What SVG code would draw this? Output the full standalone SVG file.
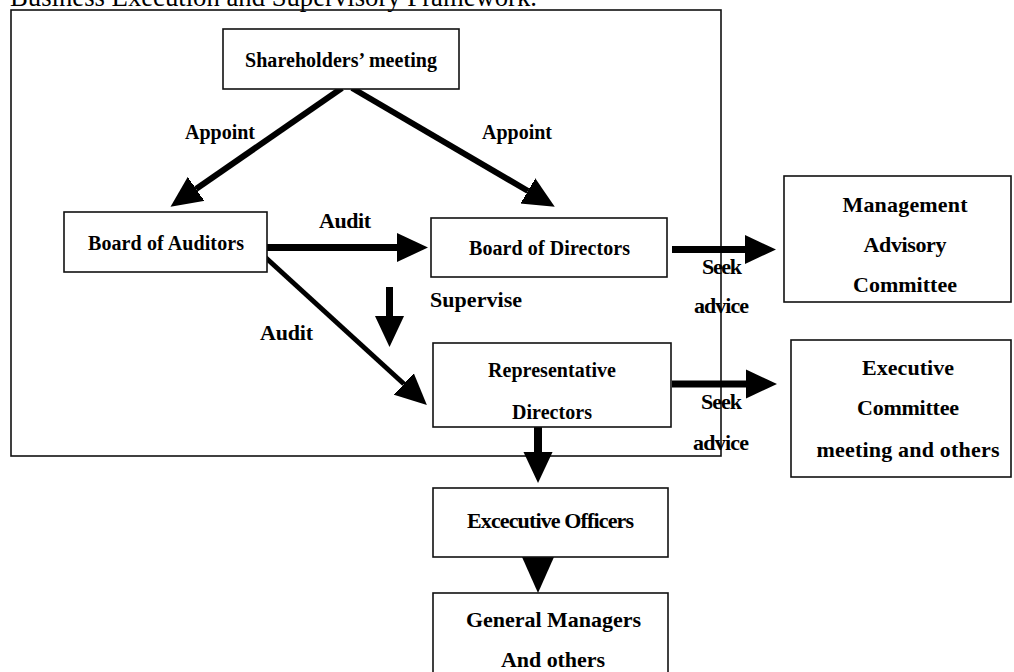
<svg xmlns="http://www.w3.org/2000/svg" width="1014" height="672" viewBox="0 0 1014 672">
  <style>
    .box { fill: #ffffff; stroke: #111111; stroke-width: 1.6; }
    .frame { fill: none; stroke: #111111; stroke-width: 1.6; }
    .t { font-family: "Liberation Serif", "Times New Roman", serif; font-weight: bold; font-size: 20px; fill: #000000; }
    .c { font-family: "Liberation Serif", "Times New Roman", serif; font-weight: bold; font-size: 22px; fill: #000000; }
    .title { font-family: "Liberation Serif", "Times New Roman", serif; font-size: 26.7px; fill: #000000; }
    .conn { stroke: #000000; fill: none; marker-end: url(#head); }
    .head { fill: #000000; }
  </style>
  <defs>
    <marker id="head" markerUnits="userSpaceOnUse" viewBox="0 -16 33 32" markerWidth="33" markerHeight="32" refX="0" refY="0" orient="auto">
      <path d="M-1,-15 L31,0 L-1,15 Z" fill="#000000"/>
    </marker>
  </defs>

  <text class="title" x="10" y="6">Business Execution and Supervisory Framework.</text>

  <rect id="frame" class="frame" x="11" y="10" width="710" height="446"/>

  <g id="connectors">
    <line class="conn" x1="342" y1="88" x2="196" y2="189" stroke-width="6"/>
    <line class="conn" x1="352" y1="88" x2="528" y2="191" stroke-width="6"/>
    <line class="conn" x1="267" y1="247.5" x2="397" y2="247.5" stroke-width="7"/>
    <line class="conn" x1="265" y1="257" x2="404" y2="384" stroke-width="5"/>
    <line class="conn" x1="389.5" y1="287" x2="389.5" y2="316" stroke-width="7"/>
    <line class="conn" x1="538" y1="427" x2="538" y2="452" stroke-width="8"/>
    <line class="conn" x1="672" y1="249.5" x2="745" y2="249.5" stroke-width="7"/>
    <line class="conn" x1="672" y1="384" x2="746" y2="384" stroke-width="7"/>
    <polygon class="head" points="522,557 554,557 538,593"/>
    <text class="t" x="185" y="139">Appoint</text>
    <text class="t" x="482" y="139">Appoint</text>
    <text class="c" x="319" y="228" textLength="52">Audit</text>
    <text class="c" x="260" y="340" textLength="53">Audit</text>
    <text class="c" x="430" y="307" textLength="92">Supervise</text>
    <text class="c" x="702" y="274" textLength="40">Seek</text>
    <text class="c" x="694" y="313" textLength="55">advice</text>
    <text class="c" x="701" y="409" textLength="41">Seek</text>
    <text class="c" x="693" y="450" textLength="56">advice</text>
  </g>

  <g id="shareholders">
    <rect class="box" x="223" y="29" width="236" height="60"/>
    <text class="t" x="341" y="67" text-anchor="middle" textLength="192">Shareholders’ meeting</text>
  </g>

  <g id="board-of-auditors">
    <rect class="box" x="64" y="212" width="203" height="60"/>
    <text class="t" x="88" y="250" textLength="156">Board of Auditors</text>
  </g>

  <g id="board-of-directors">
    <rect class="box" x="431" y="218" width="236" height="59"/>
    <text class="t" x="469" y="255" textLength="161">Board of Directors</text>
  </g>

  <g id="representative-directors">
    <rect class="box" x="433" y="343" width="238" height="84"/>
    <text class="t" x="488" y="377" textLength="128">Representative</text>
    <text class="t" x="512" y="419" textLength="80">Directors</text>
  </g>

  <g id="management-advisory-committee">
    <rect class="box" x="784" y="176" width="227" height="126"/>
    <text class="c" x="905" y="212" text-anchor="middle" textLength="125">Management</text>
    <text class="c" x="905" y="252" text-anchor="middle" textLength="83">Advisory</text>
    <text class="c" x="905" y="292" text-anchor="middle" textLength="104">Committee</text>
  </g>

  <g id="executive-committee">
    <rect class="box" x="791" y="340" width="220" height="137"/>
    <text class="c" x="908" y="375" text-anchor="middle" textLength="92">Executive</text>
    <text class="c" x="908" y="415" text-anchor="middle" textLength="102">Committee</text>
    <text class="c" x="908" y="457" text-anchor="middle" textLength="183">meeting and others</text>
  </g>

  <g id="executive-officers">
    <rect class="box" x="433" y="488" width="235" height="69"/>
    <text class="c" x="467" y="528" textLength="167">Excecutive Officers</text>
  </g>

  <g id="general-managers">
    <rect class="box" x="433" y="593" width="235" height="90"/>
    <text class="c" x="466" y="627" textLength="175">General Managers</text>
    <text class="c" x="501" y="667" textLength="104">And others</text>
  </g>
</svg>
